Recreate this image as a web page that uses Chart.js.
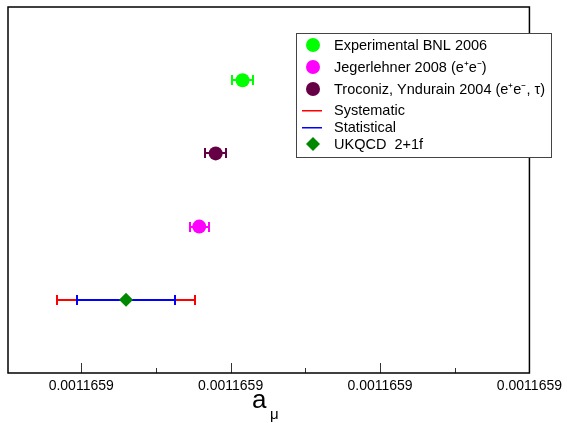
<!DOCTYPE html>
<html>
<head>
<meta charset="utf-8">
<script src="https://cdn.jsdelivr.net/npm/chart.js@4"></script>
<style>
  body { margin: 0; background: #fff; }
  #wrap { width: 567px; height: 423px; }
</style>
</head>
<body>
<div id="wrap"><canvas id="myChart" width="567" height="423"></canvas></div>
<script>
// hodnoty a_mu v jednotkach 1e-10
const labels = ['Experimental BNL 2006', 'Jegerlehner 2008 (e\u207Ae\u207B)', 'Troconiz, Yndurain 2004 (e\u207Ae\u207B, \u03C4)', 'UKQCD  2+1f'];
const values = [11659208, 11659179, 11659190, 11659130];
const statErrors = [7, 6.3, 7, 33];
const sysErrors = [0, 0, 0, 46];
const rows = [4, 2, 3, 1];
const colors = ['#00ff00', '#ff00ff', '#660044', '#008800'];
const markers = ['circle', 'circle', 'circle', 'rectRot'];
const xMin = 11659051, xMax = 11659400;

const FONT = '"Liberation Sans", Arial, sans-serif';

const datasets = labels.map((l, i) => ({
    label: l,
    data: [{ x: values[i], y: rows[i] }],
    backgroundColor: colors[i],
    borderColor: colors[i],
    pointStyle: markers[i],
    pointRadius: 7,
    pointHoverRadius: 7,
    borderWidth: 0
}));

const extras = {
    id: 'extras',
    beforeDatasetsDraw(chart) {
        const ctx = chart.ctx, x = chart.scales.x, y = chart.scales.y;
        ctx.save();
        ctx.lineWidth = 2;
        const bar = (v, e, py, col) => {
            const a = Math.round(x.getPixelForValue(v - e)), b = Math.round(x.getPixelForValue(v + e));
            ctx.strokeStyle = col;
            ctx.beginPath();
            ctx.moveTo(a, py); ctx.lineTo(b, py);
            ctx.moveTo(a, py - 5); ctx.lineTo(a, py + 5);
            ctx.moveTo(b, py - 5); ctx.lineTo(b, py + 5);
            ctx.stroke();
        };
        values.forEach((v, i) => {
            const py = Math.round(y.getPixelForValue(rows[i]));
            if (sysErrors[i] > 0) {
                bar(v, sysErrors[i], py, '#ff0000');
                bar(v, statErrors[i], py, '#0000ff');
            } else {
                bar(v, statErrors[i], py, colors[i]);
            }
        });
        ctx.restore();
    },
    afterDraw(chart) {
        const ctx = chart.ctx, x = chart.scales.x, area = chart.chartArea;
        ctx.save();
        // ticky dovnitr
        ctx.strokeStyle = '#333';
        ctx.lineWidth = 1;
        for (let v = 11659100; v <= xMax; v += 50) {
            const px = Math.round(x.getPixelForValue(v)) + 0.5;
            const len = (v % 100 === 0) ? 10 : 5;
            ctx.beginPath();
            ctx.moveTo(px, area.bottom); ctx.lineTo(px, area.bottom - len);
            ctx.stroke();
        }
        // ramecek
        ctx.strokeStyle = '#000';
        ctx.lineWidth = 1.5;
        ctx.strokeRect(area.left, area.top, area.right - area.left, area.bottom - area.top);

        // legenda
        const lx = 296, ly = 33, lw = 255, lh = 124;
        ctx.fillStyle = '#fff';
        ctx.fillRect(lx, ly, lw, lh);
        ctx.strokeStyle = '#444';
        ctx.lineWidth = 1;
        ctx.strokeRect(lx + 0.5, ly + 0.5, lw, lh);
        const items = [
            { t: labels[0], kind: 'circle', c: colors[0] },
            { t: labels[1], kind: 'circle', c: colors[1] },
            { t: labels[2], kind: 'circle', c: colors[2] },
            { t: 'Systematic', kind: 'line', c: '#ff0000' },
            { t: 'Statistical', kind: 'line', c: '#0000ff' },
            { t: labels[3], kind: 'diamond', c: colors[3] }
        ];
        const rowY = [45, 67, 89, 110, 127, 144];
        ctx.font = '14.5px ' + FONT;
        ctx.textBaseline = 'middle';
        items.forEach((it, i) => {
            const cy = rowY[i], mx = 313;
            ctx.fillStyle = it.c;
            if (it.kind === 'circle') {
                ctx.beginPath(); ctx.arc(mx, cy, 7, 0, Math.PI * 2); ctx.fill();
            } else if (it.kind === 'line') {
                ctx.fillRect(302, cy, 20, 1.5);
            } else {
                ctx.beginPath();
                ctx.moveTo(mx, cy - 7); ctx.lineTo(mx + 7, cy); ctx.lineTo(mx, cy + 7); ctx.lineTo(mx - 7, cy);
                ctx.closePath(); ctx.fill();
            }
            ctx.fillStyle = '#000';
            ctx.fillText(it.t, 334, cy + 1);
        });

        // popisek osy a_mu
        ctx.fillStyle = '#000';
        ctx.textBaseline = 'alphabetic';
        ctx.font = '26px ' + FONT;
        ctx.fillText('a', 252, 408);
        ctx.font = '15px ' + FONT;
        ctx.fillText('\u03BC', 270, 419);
        ctx.restore();
    }
};

const ctx = document.getElementById('myChart').getContext('2d');
new Chart(ctx, {
    type: 'scatter',
    data: { datasets: datasets },
    plugins: [extras],
    options: {
        responsive: false,
        animation: false,
        layout: { padding: { left: 8, top: 7, right: 0, bottom: 0 } },
        plugins: {
            legend: { display: false },
            tooltip: { enabled: false }
        },
        scales: {
            x: {
                type: 'linear',
                min: xMin,
                max: xMax,
                grid: { display: false, drawTicks: false },
                border: { display: false },
                ticks: {
                    stepSize: 100,
                    includeBounds: false,
                    maxRotation: 0,
                    padding: 5,
                    color: '#000',
                    font: { family: FONT, size: 14 },
                    callback: v => (v * 1e-10).toPrecision(5)
                },
                afterFit: s => { s.height = 50; }
            },
            y: {
                display: false,
                min: 0,
                max: 5
            }
        }
    }
});
</script>
</body>
</html>
